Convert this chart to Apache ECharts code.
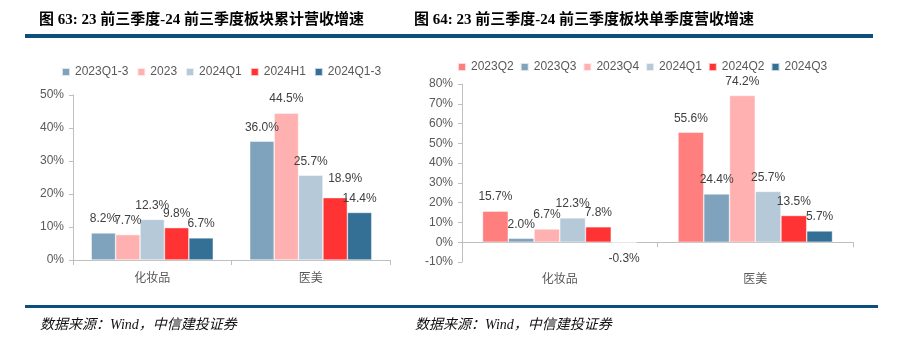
<!DOCTYPE html>
<html>
<head>
<meta charset="utf-8">
<script src="https://cdn.jsdelivr.net/npm/echarts@6/dist/echarts.min.js"></script>
<style>
html,body{margin:0;padding:0;background:#fff;}
#c{width:922px;height:358px;}
</style>
</head>
<body>
<div id="c"></div>
<script>
// ---- data ----
var categories = ['化妆品', '医美'];

var seriesNames1 = ['2023Q1-3', '2023', '2024Q1', '2024H1', '2024Q1-3'];
var s1_2023Q1_3 = [8.2, 36.0];
var s1_2023 = [7.7, 44.5];
var s1_2024Q1 = [12.3, 25.7];
var s1_2024H1 = [9.8, 18.9];
var s1_2024Q1_3 = [6.7, 14.4];

var seriesNames2 = ['2023Q2', '2023Q3', '2023Q4', '2024Q1', '2024Q2', '2024Q3'];
var s2_2023Q2 = [15.7, 55.6];
var s2_2023Q3 = [2.0, 24.4];
var s2_2023Q4 = [6.7, 74.2];
var s2_2024Q1 = [12.3, 25.7];
var s2_2024Q2 = [7.8, 13.5];
var s2_2024Q3 = [-0.3, 5.7];

var yTicks1 = [0, 10, 20, 30, 40, 50];
var yTicks2 = [-10, 0, 10, 20, 30, 40, 50, 60, 70, 80];

var title1 = '图 63: 23 前三季度-24 前三季度板块累计营收增速';
var title2 = '图 64: 23 前三季度-24 前三季度板块单季度营收增速';
var source = '数据来源：Wind，中信建投证券';

// ---- styles ----
var colors1 = ['#7FA3BC', '#FFB1B1', '#B5C9D8', '#FF3333', '#346F95'];
var colors2 = ['#FF7F7F', '#7FA3BC', '#FFB1B1', '#B5C9D8', '#FF3333', '#346F95'];
var axisColor = '#BFBFBF';
var textColor = '#595959';
var labelColor = '#404040';
var fontFam = 'Arial, "Liberation Sans", "Noto Sans CJK SC", sans-serif';
var serifFam = '"Liberation Serif", "Noto Sans CJK SC", serif';
var lineBlue = '#0D4F7C';

function mkSeries(name, data, color, xi, yi, gap) {
  return {
    name: name, type: 'bar', xAxisIndex: xi, yAxisIndex: yi,
    data: data.map(function (v) {
      var d = { value: v };
      if (v < 0) d.label = { position: 'bottom', distance: 10 };
      return d;
    }),
    itemStyle: { color: color, borderColor: 'rgba(255,255,255,0.7)', borderWidth: 0.6 },
    barGap: '0%',
    barCategoryGap: gap,
    label: {
      show: true, position: 'top', distance: 8,
      formatter: function (p) { return p.value.toFixed(1) + '%'; },
      color: labelColor, fontSize: 12, fontFamily: fontFam
    }
  };
}

var series = [];
var d1 = [s1_2023Q1_3, s1_2023, s1_2024Q1, s1_2024H1, s1_2024Q1_3];
seriesNames1.forEach(function (n, i) {
  series.push(mkSeries(n, d1[i], colors1[i], 0, 0, '23%'));
});
series[3].data[1].label = { offset: [10, -5] };

var d2 = [s2_2023Q2, s2_2023Q3, s2_2023Q4, s2_2024Q1, s2_2024Q2, s2_2024Q3];
seriesNames2.forEach(function (n, i) {
  series.push(mkSeries(n, d2[i], colors2[i], 1, 1, '21%'));
});

function yAxis(grid, ticks) {
  return {
    type: 'value', gridIndex: grid,
    min: ticks[0], max: ticks[ticks.length - 1], interval: 10,
    axisLine: { show: true, lineStyle: { color: axisColor } },
    axisTick: { show: true, length: 4, lineStyle: { color: axisColor } },
    splitLine: { show: false },
    axisLabel: { formatter: '{value}%', color: textColor, fontSize: 12, fontFamily: fontFam, margin: 9 }
  };
}
function xAxis(grid, margin) {
  return {
    type: 'category', gridIndex: grid, data: categories,
    axisLine: { show: true, onZero: true, lineStyle: { color: axisColor } },
    axisTick: { show: true, length: 5, lineStyle: { color: axisColor } },
    axisLabel: { color: textColor, fontSize: 12, fontFamily: fontFam, margin: margin }
  };
}

var chart = echarts.init(document.getElementById('c'), null, { renderer: 'canvas' });
chart.setOption({
  animation: false,
  backgroundColor: '#fff',
  title: [
    { text: title1, left: 34, top: 8, textStyle: { fontSize: 15, fontWeight: 'bold', color: '#000', fontFamily: serifFam } },
    { text: title2, left: 409, top: 8, textStyle: { fontSize: 15, fontWeight: 'bold', color: '#000', fontFamily: serifFam } },
    { text: source, left: 35, top: 313, textStyle: { fontSize: 14, fontWeight: 'normal', fontStyle: 'italic', color: '#111', fontFamily: serifFam } },
    { text: source, left: 410, top: 313, textStyle: { fontSize: 14, fontWeight: 'normal', fontStyle: 'italic', color: '#111', fontFamily: serifFam } }
  ],
  graphic: [
    { type: 'rect', left: 25, top: 34, shape: { width: 848, height: 4 }, style: { fill: lineBlue } },
    { type: 'rect', left: 25, top: 305, shape: { width: 853, height: 3 }, style: { fill: lineBlue } }
  ],
  legend: [
    { data: seriesNames1, left: 56, top: 61, itemWidth: 8, itemHeight: 8, itemGap: 8, icon: 'rect',
      textStyle: { color: textColor, fontSize: 12, fontFamily: fontFam } },
    { data: seriesNames2, left: 452, top: 56, itemWidth: 8, itemHeight: 8, itemGap: 6, icon: 'rect',
      textStyle: { color: textColor, fontSize: 12, fontFamily: fontFam } }
  ],
  grid: [
    { left: 73, top: 95, width: 317, height: 165 },
    { left: 462, top: 84, width: 391, height: 178 }
  ],
  xAxis: [xAxis(0, 13), xAxis(1, 12)],
  yAxis: [yAxis(0, yTicks1), yAxis(1, yTicks2)],
  series: series
});
</script>
</body>
</html>
